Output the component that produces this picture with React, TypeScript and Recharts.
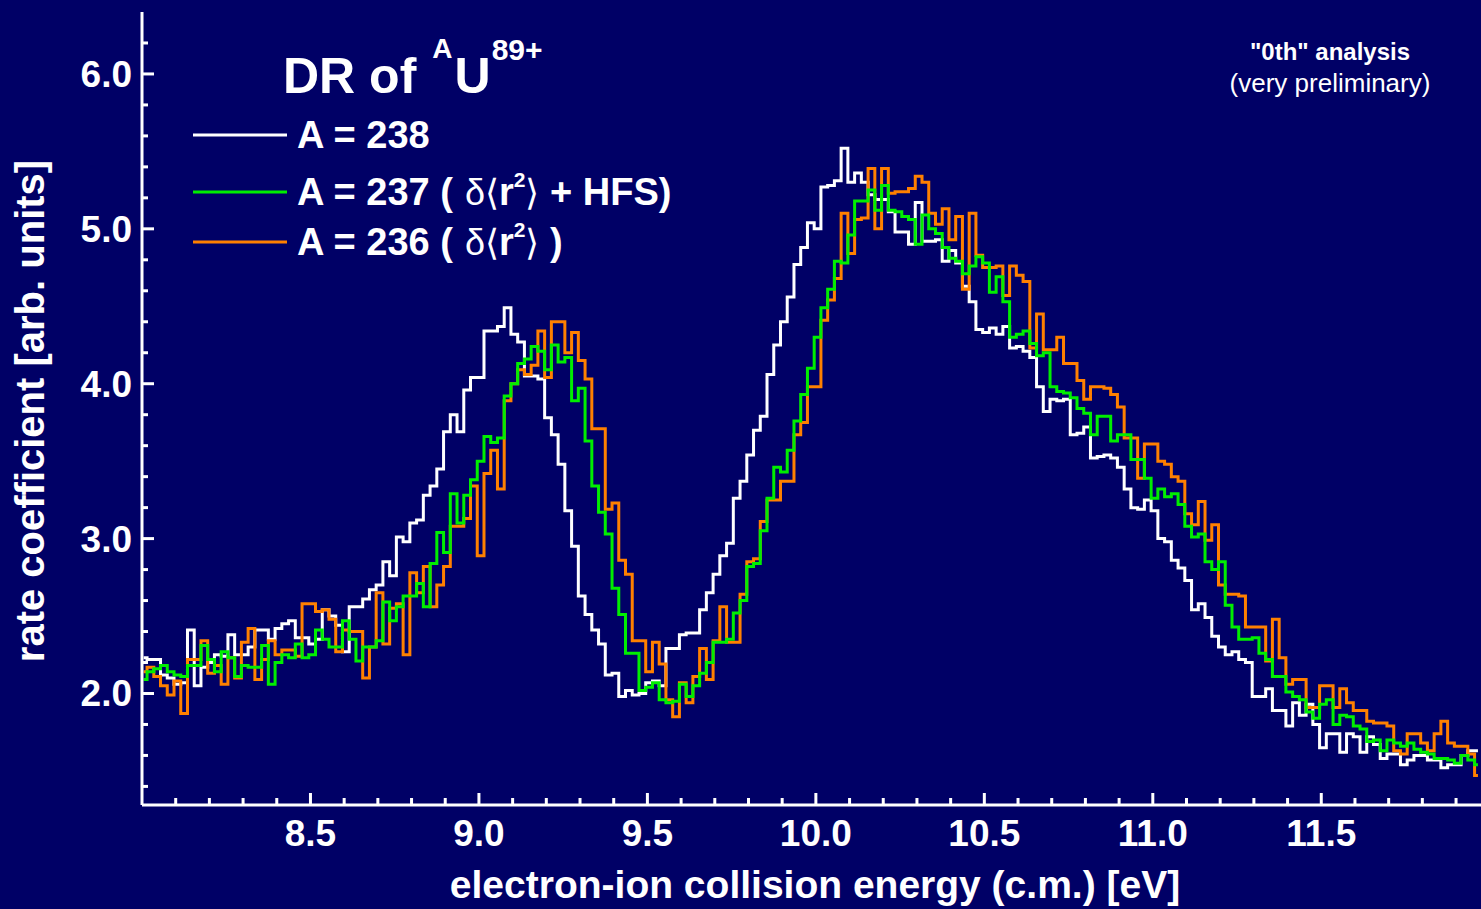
import { LineChart, Line, XAxis, YAxis } from 'recharts';

const BIN_START = 8.005;
const BIN_WIDTH = 0.02;

// A = 238
const rate238 = [
  2.23, 2.22, 2.22, 2.12, 2.10, 2.06, 2.07, 2.41, 2.05, 2.17,
  2.20, 2.25, 2.24, 2.38, 2.25, 2.25, 2.30, 2.41, 2.41, 2.35,
  2.42, 2.45, 2.47, 2.36, 2.36, 2.32, 2.35, 2.54, 2.50, 2.44,
  2.27, 2.56, 2.56, 2.61, 2.67, 2.70, 2.85, 2.76, 3.01, 2.98,
  3.10, 3.12, 3.28, 3.34, 3.45, 3.69, 3.80, 3.69, 3.96, 4.04,
  4.04, 4.34, 4.34, 4.37, 4.49, 4.32, 4.27, 4.05, 4.05, 4.03,
  3.78, 3.67, 3.48, 3.18, 2.95, 2.63, 2.51, 2.41, 2.32, 2.12,
  2.13, 1.98, 2.02, 1.99, 2.00, 2.07, 2.08, 2.05, 2.29, 2.29,
  2.38, 2.39, 2.39, 2.54, 2.65, 2.77, 2.89, 2.97, 3.26, 3.37,
  3.54, 3.70, 3.79, 4.06, 4.25, 4.40, 4.56, 4.77, 4.88, 5.04,
  5.00, 5.27, 5.28, 5.31, 5.52, 5.30, 5.36, 5.30, 5.22, 5.19,
  5.19, 5.11, 4.98, 4.98, 4.90, 5.17, 4.92, 4.92, 4.93, 4.79,
  4.86, 4.78, 4.63, 4.53, 4.35, 4.33, 4.36, 4.32, 4.37, 4.23,
  4.24, 4.21, 4.17, 3.98, 3.82, 3.90, 3.89, 3.90, 3.67, 3.68,
  3.72, 3.52, 3.53, 3.54, 3.52, 3.46, 3.32, 3.20, 3.19, 3.25,
  3.18, 3.00, 2.98, 2.86, 2.81, 2.73, 2.54, 2.58, 2.49, 2.37,
  2.30, 2.25, 2.27, 2.22, 2.20, 1.98, 1.98, 2.03, 1.89, 1.89,
  1.79, 1.94, 1.86, 1.93, 1.80, 1.65, 1.74, 1.74, 1.62, 1.74,
  1.72, 1.62, 1.72, 1.67, 1.58, 1.61, 1.61, 1.54, 1.57, 1.60,
  1.60, 1.57, 1.57, 1.52, 1.54, 1.54, 1.60, 1.63, 1.63,
];

// A = 237 (delta<r2> + HFS)
const rate237 = [
  2.09, 2.14, 2.16, 2.18, 2.14, 2.12, 2.11, 2.18, 2.18, 2.31,
  2.22, 2.14, 2.27, 2.23, 2.11, 2.18, 2.17, 2.17, 2.31, 2.06,
  2.20, 2.25, 2.23, 2.32, 2.23, 2.25, 2.41, 2.35, 2.30, 2.30,
  2.47, 2.35, 2.21, 2.30, 2.30, 2.34, 2.59, 2.47, 2.56, 2.63,
  2.63, 2.71, 2.56, 2.84, 3.04, 2.91, 3.29, 3.10, 3.28, 3.38,
  3.50, 3.66, 3.62, 3.65, 3.92, 4.00, 4.13, 4.16, 4.24, 4.21,
  4.09, 4.25, 4.14, 4.17, 3.89, 3.97, 3.63, 3.34, 3.17, 3.03,
  2.68, 2.51, 2.26, 2.26, 2.02, 2.04, 2.07, 1.96, 1.94, 1.95,
  2.06, 1.98, 2.05, 2.13, 2.20, 2.33, 2.33, 2.35, 2.52, 2.60,
  2.82, 2.84, 3.05, 3.26, 3.46, 3.43, 3.57, 3.76, 3.93, 4.10,
  4.30, 4.49, 4.61, 4.79, 4.78, 4.96, 5.18, 5.18, 5.25, 5.12,
  5.28, 5.12, 5.11, 5.08, 5.06, 4.90, 5.09, 5.00, 4.97, 4.88,
  4.81, 4.79, 4.71, 4.76, 4.82, 4.78, 4.59, 4.69, 4.53, 4.30,
  4.32, 4.34, 4.26, 4.18, 4.20, 3.98, 3.95, 3.94, 3.91, 3.84,
  3.81, 3.67, 3.79, 3.79, 3.63, 3.67, 3.67, 3.51, 3.51, 3.39,
  3.26, 3.32, 3.27, 3.29, 3.22, 3.08, 3.01, 3.03, 2.85, 2.80,
  2.85, 2.57, 2.43, 2.35, 2.35, 2.36, 2.26, 2.22, 2.11, 2.11,
  2.01, 1.98, 1.96, 1.88, 1.84, 1.93, 1.96, 1.80, 1.86, 1.85,
  1.79, 1.77, 1.69, 1.70, 1.63, 1.70, 1.68, 1.66, 1.68, 1.64,
  1.62, 1.61, 1.58, 1.58, 1.57, 1.55, 1.60, 1.57, 1.54,
];

// A = 236 (delta<r2>)
const rate236 = [
  2.14, 2.17, 2.11, 2.05, 1.99, 2.08, 1.87, 2.22, 2.22, 2.34,
  2.13, 2.18, 2.06, 2.23, 2.10, 2.33, 2.42, 2.09, 2.22, 2.34,
  2.25, 2.28, 2.28, 2.24, 2.58, 2.58, 2.53, 2.54, 2.48, 2.27,
  2.41, 2.40, 2.40, 2.10, 2.30, 2.65, 2.32, 2.55, 2.58, 2.25,
  2.78, 2.65, 2.82, 2.56, 2.70, 2.82, 3.08, 3.08, 3.13, 3.34,
  2.89, 3.42, 3.57, 3.32, 3.89, 4.00, 4.09, 4.06, 4.12, 4.34,
  4.04, 4.40, 4.40, 4.20, 4.33, 4.15, 4.03, 3.71, 3.71, 3.19,
  3.23, 2.86, 2.77, 2.34, 2.34, 2.14, 2.33, 2.19, 1.96, 1.85,
  2.07, 1.94, 2.11, 2.29, 2.09, 2.34, 2.56, 2.33, 2.33, 2.64,
  2.85, 2.87, 3.11, 3.25, 3.25, 3.37, 3.37, 3.67, 3.75, 3.98,
  3.98, 4.41, 4.54, 4.68, 5.10, 4.84, 5.06, 5.07, 5.39, 5.00,
  5.39, 5.23, 5.24, 5.24, 5.26, 5.34, 5.30, 5.10, 5.03, 5.13,
  4.93, 5.08, 4.61, 5.10, 4.83, 4.75, 4.75, 4.76, 4.57, 4.76,
  4.70, 4.66, 4.23, 4.45, 4.22, 4.22, 4.30, 4.13, 4.13, 4.02,
  3.90, 3.98, 3.98, 3.97, 3.93, 3.85, 3.65, 3.65, 3.39, 3.61,
  3.61, 3.50, 3.48, 3.40, 3.37, 3.16, 3.09, 3.24, 2.99, 3.09,
  2.70, 2.64, 2.64, 2.63, 2.43, 2.43, 2.43, 2.21, 2.48, 2.23,
  2.06, 2.09, 2.09, 1.91, 1.91, 2.05, 2.05, 1.91, 2.03, 1.94,
  1.89, 1.89, 1.82, 1.81, 1.81, 1.79, 1.63, 1.61, 1.74, 1.74,
  1.68, 1.63, 1.74, 1.82, 1.68, 1.66, 1.66, 1.61, 1.47,
];

const energyTicks = [
  8.1, 8.2, 8.3, 8.4, 8.5, 8.6, 8.7, 8.8, 8.9, 9.0,
  9.1, 9.2, 9.3, 9.4, 9.5, 9.6, 9.7, 9.8, 9.9, 10.0,
  10.1, 10.2, 10.3, 10.4, 10.5, 10.6, 10.7, 10.8, 10.9, 11.0,
  11.1, 11.2, 11.3, 11.4, 11.5, 11.6, 11.7, 11.8, 11.9,
];
const energyLabels = [8.5, 9.0, 9.5, 10.0, 10.5, 11.0, 11.5];
const rateTicks = [
  1.4, 1.6, 1.8, 2.0, 2.2, 2.4, 2.6, 2.8, 3.0, 3.2, 3.4, 3.6, 3.8,
  4.0, 4.2, 4.4, 4.6, 4.8, 5.0, 5.2, 5.4, 5.6, 5.8, 6.0, 6.2,
];
const rateLabels = [2.0, 3.0, 4.0, 5.0, 6.0];

const data = rate238.map((v, i) => ({
  e: +(BIN_START + i * BIN_WIDTH).toFixed(3),
  a238: v,
  a237: rate237[i],
  a236: rate236[i],
}));

const BG = '#000066';
const FONT = '"Liberation Sans", Arial, Helvetica, sans-serif';
const isMajor = (v: number, list: number[]) => list.some((l) => Math.abs(l - v) < 1e-6);

const EnergyTick = (props: any) => {
  const { x, y, payload, side } = props;
  const major = isMajor(payload.value, energyLabels);
  const len = major ? 12 : 7;
  const dir = side === 'bottom' ? -1 : 1;
  return (
    <g>
      <line x1={x} x2={x} y1={y} y2={y + dir * len} stroke="#fff" strokeWidth={3} />
      {side === 'bottom' && major && (
        <text x={x} y={y + 41} textAnchor="middle" fill="#fff" fontSize={37} fontWeight="bold" fontFamily={FONT}>
          {payload.value.toFixed(1)}
        </text>
      )}
    </g>
  );
};

const RateTick = (props: any) => {
  const { x, y, payload, side } = props;
  const major = isMajor(payload.value, rateLabels);
  const len = major ? 12 : 6;
  const dir = side === 'left' ? 1 : -1;
  return (
    <g>
      <line x1={x} x2={x + dir * len} y1={y} y2={y} stroke="#fff" strokeWidth={3} />
      {side === 'left' && major && (
        <text x={x - 10} y={y + 13} textAnchor="end" fill="#fff" fontSize={37} fontWeight="bold" fontFamily={FONT}>
          {payload.value.toFixed(1)}
        </text>
      )}
    </g>
  );
};

const legendRows = [
  { color: '#ffffff', y: 135 },
  { color: '#00ee00', y: 192 },
  { color: '#ff8000', y: 242 },
];

export default function App() {
  return (
    <div style={{ position: 'absolute', left: 0, top: 0, width: 1481, height: 909, overflow: 'hidden', background: BG }}>
      <LineChart width={1490} height={909} data={data} margin={{ top: 12, right: 7, bottom: 44, left: 42 }}>
        <XAxis
          dataKey="e"
          type="number"
          domain={[8.0, 11.98]}
          allowDataOverflow
          ticks={energyTicks}
          interval={0}
          height={60}
          tickSize={0}
          tickMargin={0}
          tickLine={false}
          axisLine={{ stroke: '#fff', strokeWidth: 3 }}
          tick={<EnergyTick side="bottom" />}
        />
        <XAxis
          xAxisId="top"
          orientation="top"
          dataKey="e"
          type="number"
          domain={[8.0, 11.98]}
          allowDataOverflow
          ticks={energyTicks}
          interval={0}
          height={0}
          tickSize={0}
          tickMargin={0}
          tickLine={false}
          axisLine={{ stroke: '#fff', strokeWidth: 3 }}
          tick={<EnergyTick side="top" />}
        />
        <YAxis
          type="number"
          domain={[1.28, 6.4]}
          allowDataOverflow
          ticks={rateTicks}
          interval={0}
          width={100}
          tickSize={0}
          tickMargin={0}
          tickLine={false}
          axisLine={{ stroke: '#fff', strokeWidth: 3 }}
          tick={<RateTick side="left" />}
        />
        <YAxis
          yAxisId="right"
          orientation="right"
          type="number"
          domain={[1.28, 6.4]}
          allowDataOverflow
          ticks={rateTicks}
          interval={0}
          width={0}
          tickSize={0}
          tickMargin={0}
          tickLine={false}
          axisLine={{ stroke: '#fff', strokeWidth: 3 }}
          tick={<RateTick side="right" />}
        />
        <Line type="step" dataKey="a238" stroke="#ffffff" strokeWidth={3} dot={false} isAnimationActive={false} />
        <Line type="step" dataKey="a236" stroke="#ff8000" strokeWidth={3} dot={false} isAnimationActive={false} />
        <Line type="step" dataKey="a237" stroke="#00ee00" strokeWidth={3} dot={false} isAnimationActive={false} />
      </LineChart>

      <svg width={1481} height={909} style={{ position: 'absolute', left: 0, top: 0, pointerEvents: 'none' }} fontFamily={FONT} fill="#fff">
        <text x={815} y={898} textAnchor="middle" fontSize={39} fontWeight="bold">
          electron-ion collision energy (c.m.) [eV]
        </text>
        <text transform="translate(44,411) rotate(-90)" textAnchor="middle" fontSize={40} fontWeight="bold">
          rate coefficient [arb. units]
        </text>

        <text x={283} y={93} fontSize={50} fontWeight="bold">
          DR of
          <tspan dx={16} dy={-35} fontSize={28}>A</tspan>
          <tspan dx={2} dy={35} fontSize={50}>U</tspan>
          <tspan dx={1} dy={-33} fontSize={30}>89+</tspan>
        </text>

        {legendRows.map((r) => (
          <line key={r.y} x1={193} x2={287} y1={r.y} y2={r.y} stroke={r.color} strokeWidth={3} />
        ))}
        <text x={297} y={148} fontSize={38} fontWeight="bold">A = 238</text>
        <text x={297} y={205} fontSize={38} fontWeight="bold">
          A = 237 (
          <tspan dx={12} fontWeight="normal" fontSize={36}>δ⟨</tspan>
          <tspan>r</tspan>
          <tspan dy={-18} fontSize={21}>2</tspan>
          <tspan dy={18} fontWeight="normal" fontSize={36}>⟩</tspan>
          <tspan> + HFS)</tspan>
        </text>
        <text x={297} y={255} fontSize={38} fontWeight="bold">
          A = 236 (
          <tspan dx={12} fontWeight="normal" fontSize={36}>δ⟨</tspan>
          <tspan>r</tspan>
          <tspan dy={-18} fontSize={21}>2</tspan>
          <tspan dy={18} fontWeight="normal" fontSize={36}>⟩</tspan>
          <tspan> )</tspan>
        </text>

        <text x={1330} y={60} textAnchor="middle" fontSize={24} fontWeight="bold">"0th" analysis</text>
        <text x={1330} y={92} textAnchor="middle" fontSize={26}>(very preliminary)</text>
      </svg>
    </div>
  );
}
